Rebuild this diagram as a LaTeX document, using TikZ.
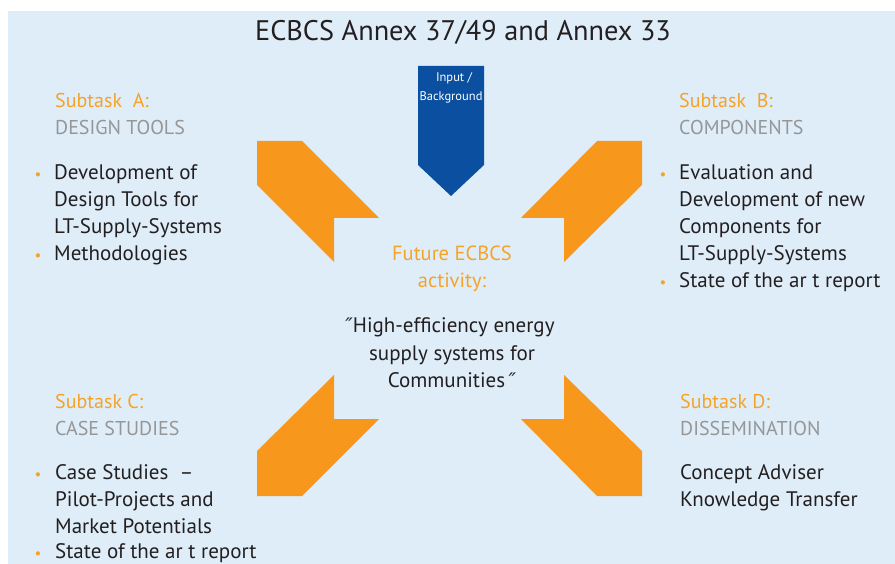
\documentclass[tikz,border=0pt]{standalone}
\usepackage{fontspec}
\setmainfont{PT Sans}
\newfontfamily\symfont{DejaVu Sans}
\definecolor{bgblue}{RGB}{223,237,248}
\definecolor{arrowor}{RGB}{247,152,29}
\definecolor{textor}{RGB}{245,163,40}
\definecolor{textgray}{RGB}{150,150,150}
\definecolor{inblue}{RGB}{10,79,160}
\definecolor{textblk}{RGB}{35,31,32}
\tikzset{
  bodytxt/.style={anchor=base west, inner sep=0pt, text=textblk, font=\fontsize{21}{25}\selectfont},
  ortxt/.style={anchor=base west, inner sep=0pt, text=textor, font=\fontsize{20}{24}\selectfont},
  graytxt/.style={anchor=base west, inner sep=0pt, text=textgray, font=\fontsize{20}{24}\selectfont},
  bul/.style={anchor=base, inner sep=0pt, text=textor, font=\fontsize{15}{17}\selectfont},
  ctrtxt/.style={anchor=base, inner sep=0pt, text=textblk, font=\fontsize{21}{25}\selectfont},
  ctror/.style={anchor=base, inner sep=0pt, text=textor, font=\fontsize{20.5}{24}\selectfont},
  intxt/.style={anchor=base, inner sep=0pt, text=white, font=\fontsize{12.5}{15}\selectfont},
  chev/.style={fill=arrowor},
}
\newcommand{\qmark}{{\symfont\fontsize{20}{22}\selectfont\itshape ″}}
\begin{document}
\begin{tikzpicture}[x=1pt,y=-1pt]
\useasboundingbox (0,0) rectangle (895,564);
\fill[bgblue] (8,11) rectangle (895,564);
% title
\node[anchor=base, inner sep=0pt, text=textblk, font=\fontsize{28.3}{32}\selectfont] (title) at (463,41) {ECBCS Annex 37/49 and Annex 33};
% input arrow
\fill[inblue] (418,66) -- (484,66) -- (484,165) -- (451,196) -- (418,165) -- cycle;
\node[intxt] (in1) at (454,82) {Input /};
\node[intxt] (in2) at (451,101) {Background};
% orange chevrons
\fill[chev] (257,141) -- (302,141) -- (379,218) -- (334,218) -- (334,262) -- (257,185) -- cycle;
\fill[chev] (642,141) -- (597,141) -- (521,218) -- (564,218) -- (564,262) -- (642,185) -- cycle;
\fill[chev] (334,375) -- (334,419) -- (379,419) -- (302,496) -- (257,496) -- (257,451) -- cycle;
\fill[chev] (564,375) -- (564,419) -- (521,419) -- (597,496) -- (642,496) -- (642,451) -- cycle;
% Subtask A
\node[ortxt] (aT) at (55,108) {Subtask\ \ A:};
\node[graytxt] (aS) at (55,135) {DESIGN TOOLS};
\node[bul] (ab1) at (38,180) {•};
\node[bodytxt] (a1) at (54,180) {Development of};
\node[bodytxt] (a2) at (54,207) {Design Tools for};
\node[bodytxt] (a3) at (54,234) {LT-Supply-Systems};
\node[bul] (ab2) at (38,261) {•};
\node[bodytxt] (a4) at (54,261) {Methodologies};
% Subtask B
\node[ortxt] (bT) at (679,108) {Subtask\ \ B:};
\node[graytxt] (bS) at (679,135) {COMPONENTS};
\node[bul] (bb1) at (663,180) {•};
\node[bodytxt] (b1) at (679,180) {Evaluation and};
\node[bodytxt] (b2) at (679,207) {Development of new};
\node[bodytxt] (b3) at (679,234) {Components for};
\node[bodytxt] (b4) at (679,261) {LT-Supply-Systems};
\node[bul] (bb2) at (663,288) {•};
\node[bodytxt] (b5) at (679,288) {State of the ar t report};
% Subtask C
\node[ortxt] (cT) at (55,408) {Subtask C:};
\node[graytxt] (cS) at (55,435) {CASE STUDIES};
\node[bul] (cb1) at (38,479) {•};
\node[bodytxt] (c1) at (55,479) {Case Studies\ \ –};
\node[bodytxt] (c2) at (55,506) {Pilot-Projects and};
\node[bodytxt] (c3) at (55,533) {Market Potentials};
\node[bul] (cb2) at (38,558) {•};
\node[bodytxt] (c4) at (55,558) {State of the ar t report};
% Subtask D
\node[ortxt] (dT) at (680,408) {Subtask D:};
\node[graytxt] (dS) at (680,435) {DISSEMINATION};
\node[bodytxt] (d1) at (680,479) {Concept Adviser};
\node[bodytxt] (d2) at (680,506) {Knowledge Transfer};
% centre
\node[ctror] (f1) at (452,261) {Future ECBCS};
\node[ctror] (f2) at (452,288) {activity:};
\node[ctrtxt] (q1) at (450,333) {\qmark High-efficiency energy};
\node[ctrtxt] (q2) at (452,360) {supply systems for};
\node[ctrtxt] (q3) at (452,387) {Communities\,\qmark};
\end{tikzpicture}
\end{document}
